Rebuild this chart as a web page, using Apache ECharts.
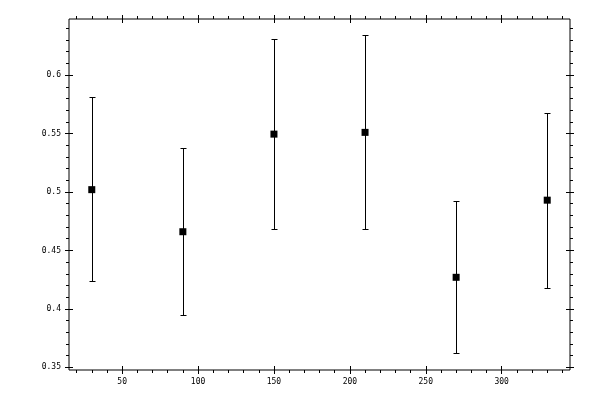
<!DOCTYPE html>
<html lang="en">
<head>
    <meta charset="UTF-8">
    <title>Error bars</title>
    <script src="https://cdn.jsdelivr.net/npm/echarts@6/dist/echarts.min.js"></script>
</head>
<body style="margin:0">
    <div id="main" style="width: 600px;height: 400px"></div>
    <script>
        // data
        var xValues = [30, 90, 150, 210, 270, 330];
        var meanValues = [0.502, 0.466, 0.5495, 0.551, 0.427, 0.493];
        var lowerValues = [0.424, 0.395, 0.468, 0.468, 0.362, 0.4176];
        var upperValues = [0.581, 0.5375, 0.631, 0.634, 0.492, 0.568];

        // tick values
        var xMajorTicks = [50, 100, 150, 200, 250, 300];
        var yMajorTicks = [0.35, 0.4, 0.45, 0.5, 0.55, 0.6];
        var xMinorTicks = [];
        for (var v = 20; v <= 340; v += 10) {
            if (v % 50 !== 0) xMinorTicks.push(v);
        }
        var yMinorTicks = [];
        for (var k = 36; k <= 64; k++) {
            if (k % 5 !== 0) yMinorTicks.push(k / 100);
        }

        var xMin = 15, xMax = 345;
        var yMin = 0.3477, yMax = 0.648;

        var chart = echarts.init(document.getElementById('main'));
        var font = { fontFamily: 'DejaVu Sans Mono', fontSize: 8, color: '#000' };

        // one axis for major ticks (crossing the frame), one for minor ticks (outside)
        function makeAxis(pos, isX, major, labels) {
            return {
                type: 'value',
                position: pos,
                min: isX ? xMin : yMin,
                max: isX ? xMax : yMax,
                offset: major ? -4 : 0,
                axisLine: { show: false },
                splitLine: { show: false },
                axisTick: {
                    show: true,
                    inside: false,
                    length: major ? 8 : 3,
                    customValues: major ? (isX ? xMajorTicks : yMajorTicks) : (isX ? xMinorTicks : yMinorTicks),
                    lineStyle: { color: '#000', width: 1 }
                },
                axisLabel: labels ? Object.assign({
                    show: true,
                    margin: 12,
                    customValues: isX ? xMajorTicks : yMajorTicks
                }, font) : { show: false }
            };
        }

        var errData = xValues.map(function (x, i) {
            return [x, lowerValues[i], upperValues[i]];
        });
        var meanData = xValues.map(function (x, i) {
            return [x, meanValues[i]];
        });

        function crisp(n) {
            return Math.round(n) + 0.5;
        }

        chart.setOption({
            animation: false,
            grid: {
                left: 69, right: 30, top: 19, bottom: 30,
                show: true,
                borderColor: '#000',
                borderWidth: 1,
                backgroundColor: 'transparent'
            },
            xAxis: [
                makeAxis('bottom', true, true, true),
                makeAxis('bottom', true, false, false),
                makeAxis('top', true, true, false),
                makeAxis('top', true, false, false)
            ],
            yAxis: [
                makeAxis('left', false, true, true),
                makeAxis('left', false, false, false),
                makeAxis('right', false, true, false),
                makeAxis('right', false, false, false)
            ],
            series: [
                {
                    type: 'custom',
                    xAxisIndex: 0,
                    yAxisIndex: 0,
                    data: errData,
                    renderItem: function (params, api) {
                        var lo = api.coord([api.value(0), api.value(1)]);
                        var hi = api.coord([api.value(0), api.value(2)]);
                        var x = crisp(lo[0]), y1 = crisp(hi[1]), y2 = crisp(lo[1]);
                        var style = { stroke: '#000', lineWidth: 1 };
                        return {
                            type: 'group',
                            children: [
                                { type: 'line', shape: { x1: x, y1: y1, x2: x, y2: y2 }, style: style },
                                { type: 'line', shape: { x1: x - 3, y1: y1, x2: x + 3, y2: y1 }, style: style },
                                { type: 'line', shape: { x1: x - 3, y1: y2, x2: x + 3, y2: y2 }, style: style }
                            ]
                        };
                    },
                    z: 2
                },
                {
                    type: 'scatter',
                    xAxisIndex: 0,
                    yAxisIndex: 0,
                    symbol: 'rect',
                    symbolSize: 7,
                    itemStyle: { color: '#000', opacity: 1 },
                    data: meanData,
                    z: 3
                }
            ]
        });
    </script>
</body>
</html>
